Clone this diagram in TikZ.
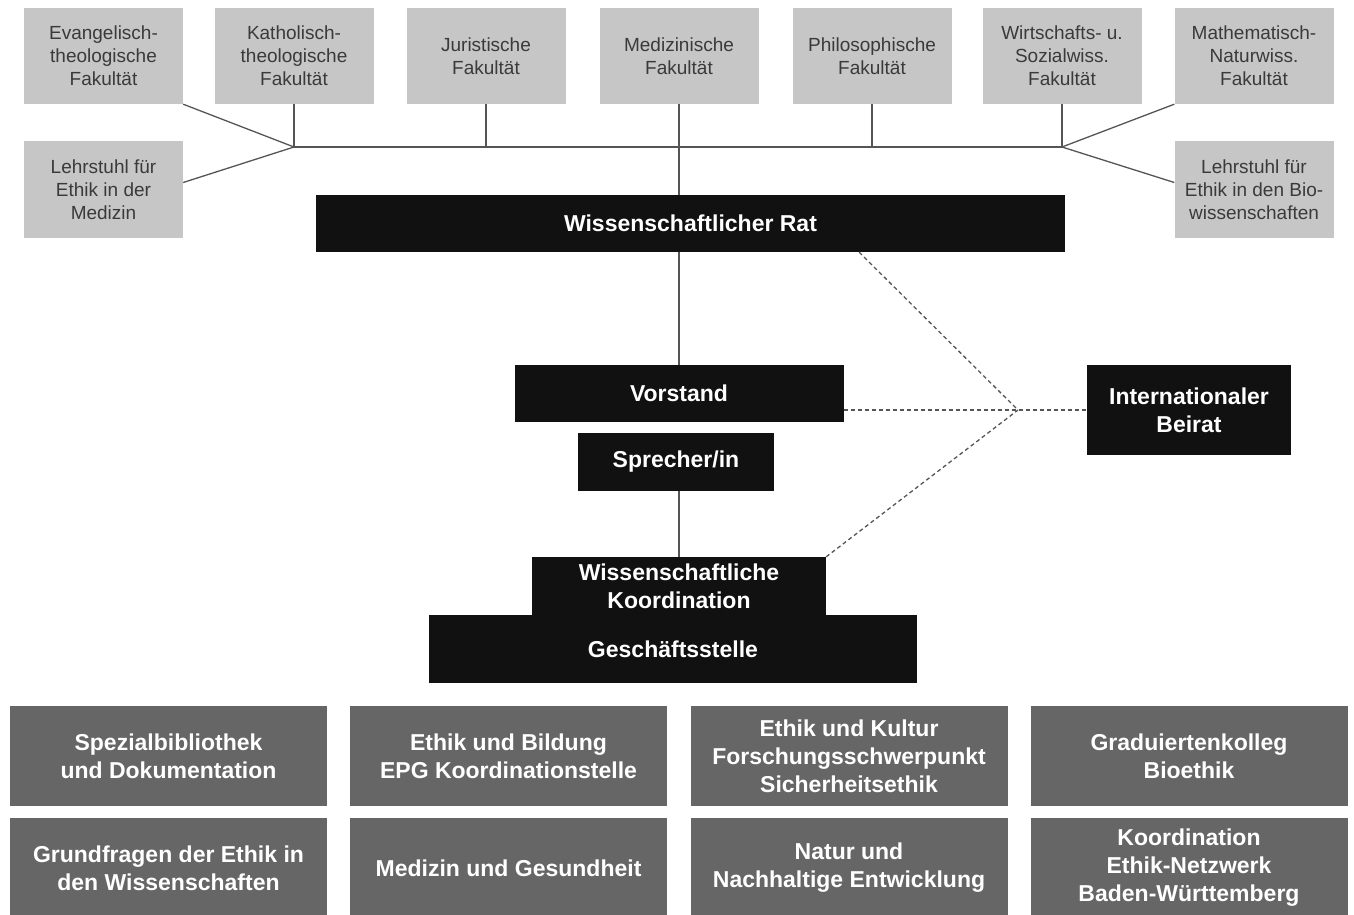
\documentclass[tikz,border=0pt]{standalone}
\usepackage{fontspec}
\setmainfont{Liberation Sans}
\usetikzlibrary{calc}
\definecolor{gbox}{HTML}{C6C6C6}
\definecolor{gtext}{HTML}{3A3A3A}
\definecolor{bk}{HTML}{111111}
\definecolor{dgray}{HTML}{666666}
\definecolor{lcol}{HTML}{555555}
\begin{document}
\begin{tikzpicture}[x=1pt,y=-1pt,
  fac/.style={fill=gbox, text=gtext, minimum width=159pt, minimum height=96pt, inner sep=0pt, align=center, font=\fontsize{19}{23}\selectfont},
  blk/.style={fill=bk, text=white, inner sep=0pt, align=center, font=\bfseries\fontsize{23}{28}\selectfont},
  dep/.style={fill=dgray, text=white, minimum width=317pt, inner sep=0pt, align=center, font=\bfseries\fontsize{23}{28}\selectfont},
  conn/.style={draw=lcol, line width=1.3pt},
  dconn/.style={draw=lcol, line width=1.3pt, dash pattern=on 4pt off 3pt}]
\useasboundingbox (0,0) rectangle (1354,915);
% faculties
\node[fac] (ev) at (103.5,56) {Evangelisch-\\theologische\\Fakultät};
\node[fac] (ka) at (294,56) {Katholisch-\\theologische\\Fakultät};
\node[fac] (ju) at (486,56) {Juristische\\Fakultät};
\node[fac] (me) at (679,56) {Medizinische\\Fakultät};
\node[fac] (ph) at (872,56) {Philosophische\\Fakultät};
\node[fac] (wi) at (1062,56) {Wirtschafts- u.\\Sozialwiss.\\Fakultät};
\node[fac] (ma) at (1254,56) {Mathematisch-\\Naturwiss.\\Fakultät};
\node[fac, minimum height=97pt] (l1) at (103.5,189.5) {Lehrstuhl für\\Ethik in der\\Medizin};
\node[fac, minimum height=97pt] (l2) at (1254,189.5) {Lehrstuhl für\\Ethik in den Bio-\\wissenschaften};
% central bodies
\node[blk, minimum width=749pt, minimum height=57pt] (rat) at (690.5,223.5) {Wissenschaftlicher Rat};
\node[blk, minimum width=329pt, minimum height=57pt] (vo) at (679,393.5) {Vorstand};
\node[blk, minimum width=196pt, minimum height=58pt] (sp) at (676,462) {Sprecher/in};
\node[blk, minimum width=488pt, minimum height=68pt] (gs) at (673,649) {Geschäftsstelle};
\node[blk, minimum width=294pt, minimum height=58pt] (wk) at (679,586) {Wissenschaftliche\\Koordination};
\node[blk, minimum width=204pt, minimum height=90pt] (bi) at (1189,410) {Internationaler\\Beirat};
% departments
\node[dep, minimum height=100pt] (d1) at (168.5,756) {Spezialbibliothek\\und Dokumentation};
\node[dep, minimum height=100pt] (d2) at (508.5,756) {Ethik und Bildung\\EPG Koordinationstelle};
\node[dep, minimum height=100pt] (d3) at (849,756) {Ethik und Kultur\\Forschungsschwerpunkt\\Sicherheitsethik};
\node[dep, minimum height=100pt] (d4) at (1189,756) {Graduiertenkolleg\\Bioethik};
\node[dep, minimum height=100pt] (d5) at (168.5,868) {Grundfragen der Ethik in\\den Wissenschaften};
\node[dep, minimum height=100pt] (d6) at (508.5,868) {Medizin und Gesundheit};
\node[dep, minimum height=100pt] (d7) at (849,868) {Natur und\\Nachhaltige Entwicklung};
\node[dep, minimum height=100pt] (d8) at (1189,868) {Koordination\\Ethik-Netzwerk\\Baden-Württemberg};
% junctions
\coordinate (jl) at (294,147);
\coordinate (jr) at (1062,147);
\coordinate (dj) at (1018,410);
% faculty connectors
\draw[conn] (jl) -- (jr);
\draw[conn] (ka.south) -- (jl);
\draw[conn] (ev.south east) -- (jl);
\draw[conn] ([yshift=7pt]l1.east) -- (jl);
\draw[conn] (ju.south) -- (ju.south |- jl);
\draw[conn] (me.south) -- (me.south |- rat.north);
\draw[conn] (ph.south) -- (ph.south |- jl);
\draw[conn] (wi.south) -- (jr);
\draw[conn] (ma.south west) -- (jr);
\draw[conn] ([yshift=7pt]l2.west) -- (jr);
% hierarchy
\draw[conn] (vo.north |- rat.south) -- (vo.north);
\draw[conn] (sp.south -| wk.north) -- (wk.north);
% advisory board
\draw[dconn] ($(rat.south west)!0.725!(rat.south east)$) -- (dj);
\draw[dconn] (vo.east |- bi.west) -- (bi.west);
\draw[dconn] (wk.north east) -- (dj);
\end{tikzpicture}
\end{document}
